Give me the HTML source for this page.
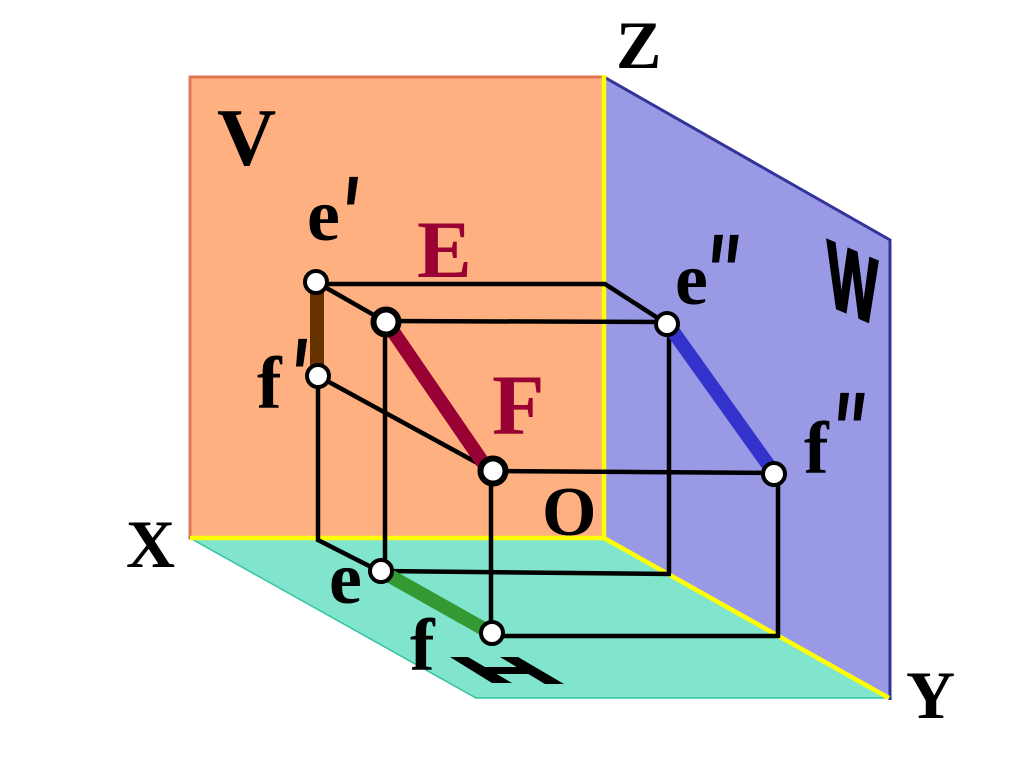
<!DOCTYPE html>
<html><head><meta charset="utf-8"><style>
html,body{margin:0;padding:0;background:#fff}
svg{display:block}
text{font-family:"Liberation Serif",serif;font-weight:bold;fill:#000}
.p{font-family:"Liberation Sans",sans-serif;font-style:italic}
</style></head><body>
<svg width="1024" height="767" viewBox="0 0 1024 767" xmlns="http://www.w3.org/2000/svg">
<polygon points="190,538 604,538 890,698 476,698" fill="#80E5CC" stroke="#33C4A0" stroke-width="1.5"/>
<rect x="190" y="77" width="414" height="461" fill="#FFB080" stroke="#E07858" stroke-width="3"/>
<polygon points="604,77 890,240 890,700 604,538" fill="#9999E5"/>
<polyline points="604,77 890,240 890,700" fill="none" stroke="#333399" stroke-width="3"/>
<g stroke="#FFFF00" stroke-width="4.5" fill="none">
<line x1="604" y1="75" x2="604" y2="538"/>
<line x1="190" y1="538" x2="604" y2="538"/>
<line x1="604" y1="538" x2="889" y2="698"/>
</g>
<g stroke="#000" stroke-width="4.5" fill="none">
<polyline points="316,284 605,284 667,324"/>
<line x1="316" y1="282" x2="386" y2="322"/>
<line x1="386" y1="321" x2="667" y2="322"/>
<line x1="318" y1="376" x2="492" y2="471"/>
<line x1="492" y1="471" x2="774" y2="473"/>
<polyline points="318,376 318,540 381,572"/>
<line x1="385" y1="322" x2="385" y2="571"/>
<line x1="491" y1="471" x2="491" y2="633"/>
<line x1="381" y1="571" x2="671" y2="574"/>
<line x1="491" y1="636" x2="779" y2="636"/>
<line x1="669" y1="324" x2="669" y2="574"/>
<line x1="778" y1="474" x2="778" y2="638"/>
</g>
<line x1="317" y1="282" x2="317" y2="376" stroke="#663300" stroke-width="14"/>
<line x1="392" y1="330" x2="488" y2="470" stroke="#990033" stroke-width="14"/>
<line x1="672" y1="330" x2="772" y2="470" stroke="#3333CC" stroke-width="14"/>
<line x1="381" y1="571" x2="491" y2="633" stroke="#339933" stroke-width="14"/>
<g fill="#fff" stroke="#000">
<circle cx="316" cy="282" r="11" stroke-width="4"/>
<circle cx="318" cy="376" r="11" stroke-width="4"/>
<circle cx="386" cy="322" r="12.5" stroke-width="6"/>
<circle cx="493" cy="471" r="12.5" stroke-width="6"/>
<circle cx="667" cy="324" r="11" stroke-width="4"/>
<circle cx="774" cy="474" r="11" stroke-width="4"/>
<circle cx="381" cy="571" r="11" stroke-width="4"/>
<circle cx="492" cy="633" r="11" stroke-width="4"/>
</g>
<g fill="#000">
<polygon points="450,657 468,657 512,683 492,683"/>
<polygon points="500,657 518,657 564,684 545,684"/>
<polygon points="478,667 528,667 534,674 490,674"/>
</g>
<text x="217" y="165" font-size="82">V</text>
<text x="616" y="68" font-size="68">Z</text>
<text x="126" y="567" font-size="68">X</text>
<text x="542" y="535" font-size="70">O</text>
<text x="906" y="718" font-size="68">Y</text>
<text x="417" y="277" font-size="82" style="fill:#990033">E</text>
<text x="492" y="434" font-size="86" style="fill:#990033">F</text>
<text x="307" y="240" font-size="74">e</text>
<text transform="translate(340.6,253) scale(0.6,1)" font-size="110" class="p">'</text>
<text x="257" y="408" font-size="74">f</text>
<text transform="translate(289.6,415) scale(0.6,1)" font-size="110" class="p">'</text>
<text x="675" y="304" font-size="74">e</text>
<text transform="translate(705.6,311) scale(0.6,1)" font-size="110" class="p">''</text>
<text x="804" y="473" font-size="74">f</text>
<text transform="translate(831.6,469) scale(0.6,1)" font-size="110" class="p">''</text>
<text x="329" y="603" font-size="74">e</text>
<text x="410" y="670" font-size="74">f</text>
<text transform="translate(827,304) skewY(23) scale(0.54,0.93)" font-size="100" stroke="#000" stroke-width="3" style="font-family:'Liberation Sans',sans-serif">W</text>
</svg>
</body></html>
